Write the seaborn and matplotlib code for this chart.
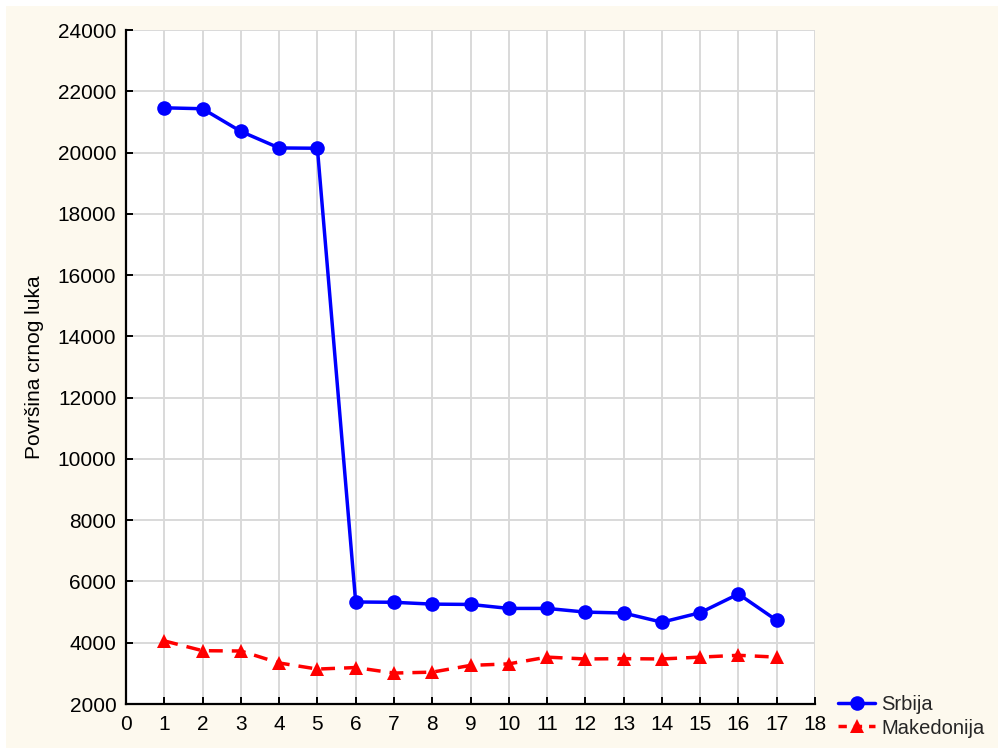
import matplotlib
matplotlib.use("Agg")
import matplotlib.pyplot as plt
import seaborn as sns
import pandas as pd
from matplotlib.patches import Rectangle
from matplotlib.lines import Line2D

years = list(range(1, 18))
srbija = [21460, 21430, 20690, 20150, 20140, 5330, 5320, 5260, 5250, 5120, 5120, 5000, 4970, 4670, 4980, 5590, 4730]
makedonija = [4060, 3740, 3730, 3340, 3140, 3190, 3010, 3040, 3260, 3310, 3530, 3470, 3480, 3470, 3530, 3590, 3530]
series_names = ["Srbija", "Makedonija"]
x_ticks = list(range(0, 19))
y_ticks = list(range(2000, 24001, 2000))
y_label = "Površina crnog luka"

df = pd.DataFrame({
    "x": years * 2,
    "y": srbija + makedonija,
    "serija": [series_names[0]] * len(years) + [series_names[1]] * len(years),
})

sns.set_theme(style="white")
plt.rcParams["font.family"] = ["Liberation Sans", "DejaVu Sans"]

fig = plt.figure(figsize=(9.98, 7.48), dpi=100)
fig.patch.set_facecolor("white")
fig.patches.append(Rectangle((6 / 998, 0), 1, 1 - 6 / 748, transform=fig.transFigure,
                             facecolor="#fdf9ee", edgecolor="none", zorder=-10))
ax = fig.add_axes([126 / 998, 1 - 704 / 748, (815 - 126) / 998, (704 - 30) / 748])
ax.set_facecolor("white")

sns.lineplot(data=df, x="x", y="y", hue="serija", style="serija",
             palette={"Srbija": "#0000ff", "Makedonija": "#ff0000"},
             markers={"Srbija": "o", "Makedonija": "^"},
             dashes={"Srbija": "", "Makedonija": (4, 2.6)},
             linewidth=2.5, markersize=10.5, markeredgewidth=0,
             ax=ax, legend=False, zorder=3, clip_on=False)

ax.set_xlim(0, 18)
ax.set_ylim(2000, 24000)
ax.set_xticks(x_ticks)
ax.set_yticks(y_ticks)
ax.set_xticklabels([str(t) for t in x_ticks])
ax.set_yticklabels([str(t) for t in y_ticks])
ax.grid(True, color="#d9d9d9", linewidth=1.4, zorder=0)
ax.set_axisbelow(True)
for s in ["top", "right"]:
    ax.spines[s].set_visible(False)
for s in ["left", "bottom"]:
    ax.spines[s].set_color("black")
    ax.spines[s].set_linewidth(1.6)
ax.tick_params(axis="both", direction="in", length=5, width=1.4, color="black",
               labelsize=15, labelcolor="black", left=True, bottom=True)
ax.tick_params(axis="x", pad=8)
ax.tick_params(axis="y", pad=7)
ax.set_xlabel("")
ax.set_ylabel(y_label, fontsize=15, color="black", labelpad=10)

handles = [
    Line2D([], [], color="#0000ff", linewidth=2.5, marker="o", markersize=10.5, markeredgewidth=0),
    Line2D([], [], color="#ff0000", linewidth=2.5, linestyle=(0, (2.4, 2.0)), marker="^", markersize=10.5, markeredgewidth=0),
]
fig.legend(handles, series_names, loc="center left", bbox_to_anchor=(838 / 998, 1 - 716.5 / 748),
           frameon=False, fontsize=14.5, handlelength=1.85, handletextpad=0.3, labelspacing=0.2,
           borderpad=0, borderaxespad=0)

fig.savefig("out.png", dpi=100, facecolor=fig.get_facecolor())
